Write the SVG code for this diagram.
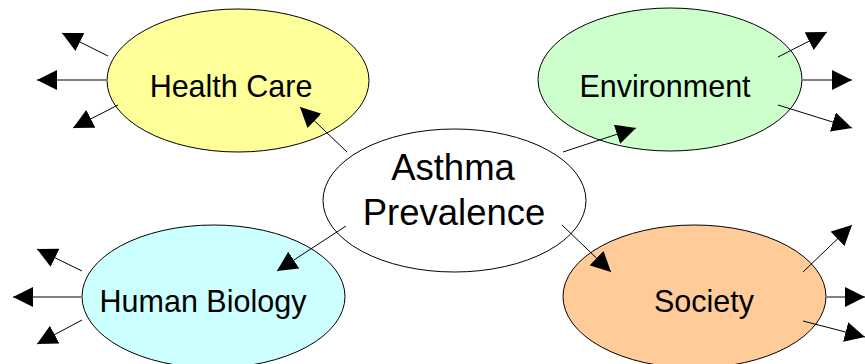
<svg xmlns="http://www.w3.org/2000/svg" width="865" height="364" viewBox="0 0 865 364">
<style>
.n{stroke:#000;stroke-width:1}
.t{font-family:"Liberation Sans",Arial,sans-serif;font-size:30.5px;fill:#000;text-anchor:middle}
.c line{stroke:#000;stroke-width:1;marker-end:url(#ah)}
.c line.h{stroke:#808080;stroke-width:2}
</style>
<defs>
<marker id="ah" markerUnits="userSpaceOnUse" markerWidth="20" markerHeight="20" refX="20" refY="10" orient="auto" viewBox="0 0 20 20">
<path d="M0,0 L20,10 L0,20 Z" fill="#000"/>
</marker>
</defs>
<rect width="865" height="364" fill="#fff"/>
<g id="health-care">
<ellipse class="n" cx="238" cy="80.5" rx="131" ry="71.5" fill="#FFFF99"/>
<text class="t" x="231" y="97">Health Care</text>
</g>
<g id="environment">
<ellipse class="n" cx="670" cy="79.5" rx="132" ry="71.5" fill="#CCFFCC"/>
<text class="t" x="665" y="97">Environment</text>
</g>
<g id="human-biology">
<ellipse class="n" cx="213.5" cy="296.5" rx="131.5" ry="71.5" fill="#CCFFFF"/>
<text class="t" x="203" y="312">Human Biology</text>
</g>
<g id="society">
<ellipse class="n" cx="694.5" cy="296.5" rx="131.5" ry="71.5" fill="#FFCC99"/>
<text class="t" x="704" y="312">Society</text>
</g>
<g id="asthma-prevalence">
<ellipse class="n" cx="454.5" cy="200.5" rx="131.5" ry="71.5" fill="#FFFFFF"/>
<text class="t" style="font-size:36.5px" x="453" y="180">Asthma</text>
<text class="t" style="font-size:36.5px" x="454" y="225">Prevalence</text>
</g>
<g id="connectors" class="c">
<line x1="347" y1="152" x2="300" y2="107"/>
<line x1="563" y1="152" x2="636" y2="128"/>
<line x1="346" y1="226" x2="277" y2="271"/>
<line x1="562" y1="225" x2="611" y2="272"/>
<line x1="108" y1="56" x2="62" y2="33"/>
<line class="h" x1="107" y1="80" x2="37" y2="80"/>
<line x1="118" y1="105" x2="73" y2="128"/>
<line x1="778" y1="57" x2="827" y2="32"/>
<line class="h" x1="802" y1="80" x2="852" y2="80"/>
<line x1="778" y1="105" x2="852" y2="128"/>
<line x1="82" y1="271" x2="37" y2="249"/>
<line class="h" x1="82" y1="297" x2="13" y2="297"/>
<line x1="82" y1="320" x2="37" y2="344"/>
<line x1="803" y1="272" x2="852" y2="225"/>
<line class="h" x1="826" y1="297" x2="865" y2="297"/>
<line x1="803" y1="321" x2="865" y2="337"/>
</g>
</svg>
